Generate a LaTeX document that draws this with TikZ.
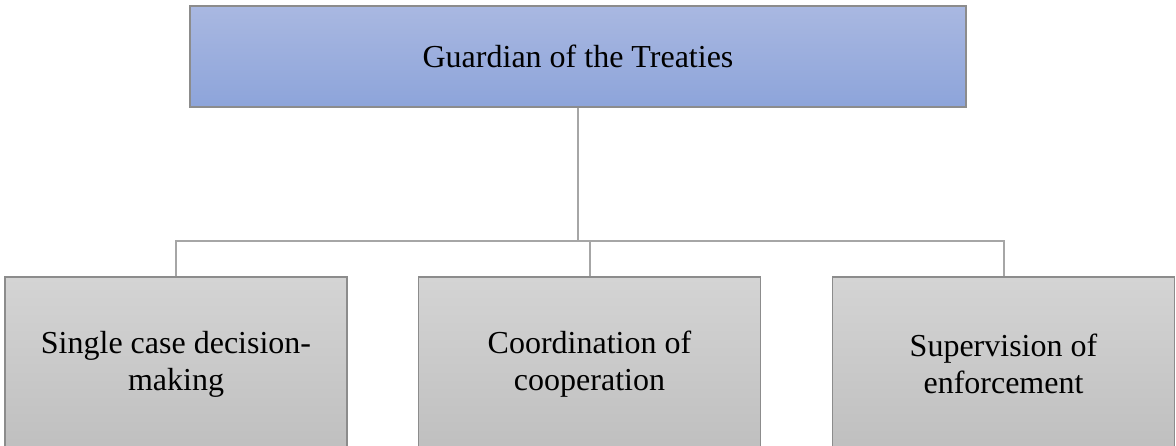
\documentclass[tikz,border=0pt]{standalone}
\usepackage{fontspec}
\setmainfont{Liberation Serif}
\definecolor{topA}{HTML}{A9B8E1}
\definecolor{topB}{HTML}{8DA4DA}
\definecolor{childA}{HTML}{D4D4D4}
\definecolor{childB}{HTML}{BFBFBF}
\definecolor{edgegray}{HTML}{8C8C8C}
\definecolor{linegray}{HTML}{A6A6A6}
\tikzset{
  topbox/.style={draw=edgegray, line width=1.2pt, top color=topA, bottom color=topB,
    minimum width=776pt, minimum height=101pt, inner sep=0pt,
    font=\fontsize{32}{37}\selectfont, align=center},
  childbox/.style={draw=edgegray, line width=1.2pt, top color=childA, bottom color=childB,
    minimum width=342pt, minimum height=174pt, inner sep=0pt,
    font=\fontsize{32}{37}\selectfont, align=center},
  conn/.style={draw=linegray, line width=2pt}
}
\begin{document}
\begin{tikzpicture}[x=1pt,y=-1pt]
\useasboundingbox (0,0) rectangle (1176,446);
\node[topbox] (top) at (578,56.5) {Guardian of the Treaties};
\node[childbox] (c1) at (176,364) {Single case decision-\\making};
\node[childbox] (c2) at (589.5,364) {Coordination of\\cooperation};
\node[childbox] (c3) at (1003.5,364) {Supervision of\\enforcement};
\coordinate (bus) at (578,241);
\draw[conn] (top.south) -- (bus);
\draw[conn] (bus) -| (c1.north);
\draw[conn] (bus) -| (c2.north);
\draw[conn] (bus) -| (c3.north);
\end{tikzpicture}
\end{document}
